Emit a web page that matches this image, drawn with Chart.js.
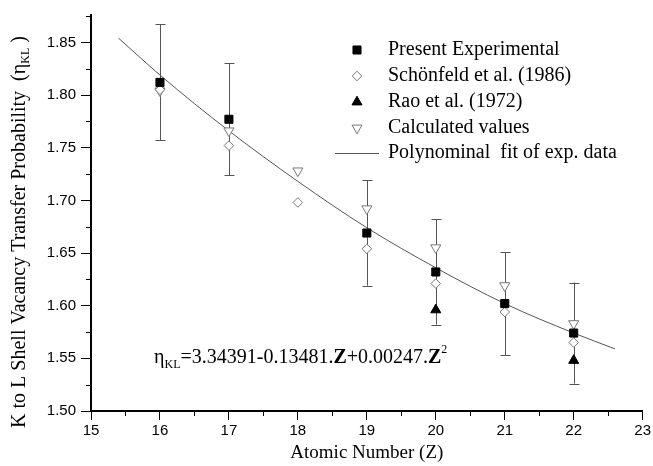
<!DOCTYPE html>
<html>
<head>
<meta charset="utf-8">
<script src="https://cdn.jsdelivr.net/npm/chart.js@4"></script>
<style>
  html, body { margin: 0; padding: 0; background: #fff; }
  #wrap { width: 653px; height: 466px; }
</style>
</head>
<body>
<div id="wrap"><canvas id="chart"></canvas></div>
<script>
// values
const presentZ = [16, 17, 19, 20, 21, 22];
const presentValues = [1.812, 1.777, 1.669, 1.632, 1.602, 1.574];
const presentErrors = [0.055, 0.053, 0.050, 0.050, 0.049, 0.048];

const schonfeldZ = [16, 17, 18, 19, 20, 21, 22];
const schonfeldValues = [1.805, 1.752, 1.698, 1.654, 1.621, 1.594, 1.565];

const raoZ = [20, 22];
const raoValues = [1.596, 1.548];

const calculatedZ = [16, 17, 18, 19, 20, 21, 22];
const calculatedValues = [1.804, 1.766, 1.728, 1.692, 1.655, 1.619, 1.583];

const fitZ = [15.4, 16, 17, 18, 19, 20, 21, 22, 22.6];
const fitValues = [1.854, 1.819, 1.766, 1.718, 1.674, 1.636, 1.602, 1.574, 1.559];

const xTicks = [15, 16, 17, 18, 19, 20, 21, 22, 23];
const yTicks = [1.50, 1.55, 1.60, 1.65, 1.70, 1.75, 1.80, 1.85];
const xMinorTicks = [15.5, 16.5, 17.5, 18.5, 19.5, 20.5, 21.5, 22.5];
const yMinorTicks = [1.525, 1.575, 1.625, 1.675, 1.725, 1.775, 1.825, 1.875];

const serif = "'Liberation Serif', 'Times New Roman', serif";
const sans = "'Liberation Sans', Arial, sans-serif";

function points(xs, ys) {
    return xs.map((x, i) => ({ x: x, y: ys[i] }));
}

// error bars for the experimental points
const errorBars = {
    id: "errorBars",
    beforeDatasetsDraw(chart) {
        const ctx = chart.ctx;
        const x = chart.scales.x, y = chart.scales.y;
        ctx.save();
        ctx.strokeStyle = "#555";
        ctx.lineWidth = 1;
        presentZ.forEach((z, i) => {
            const px = Math.round(x.getPixelForValue(z)) + 0.5;
            const top = y.getPixelForValue(presentValues[i] + presentErrors[i]);
            const bot = y.getPixelForValue(presentValues[i] - presentErrors[i]);
            ctx.beginPath();
            ctx.moveTo(px, top); ctx.lineTo(px, bot);
            ctx.moveTo(px - 5, Math.round(top) + 0.5); ctx.lineTo(px + 5, Math.round(top) + 0.5);
            ctx.moveTo(px - 5, Math.round(bot) + 0.5); ctx.lineTo(px + 5, Math.round(bot) + 0.5);
            ctx.stroke();
        });
        ctx.restore();
    }
};

// minor ticks, legend, y title and the fit equation
const extras = {
    id: "extras",
    afterDraw(chart) {
        const ctx = chart.ctx;
        const x = chart.scales.x, y = chart.scales.y;
        const area = chart.chartArea;
        ctx.save();
        ctx.strokeStyle = "#000";
        ctx.lineWidth = 1;
        ctx.beginPath();
        xMinorTicks.forEach(v => {
            const px = Math.round(x.getPixelForValue(v)) + 0.5;
            ctx.moveTo(px, area.bottom); ctx.lineTo(px, area.bottom + 5);
        });
        yMinorTicks.forEach(v => {
            if (v > y.max) return;
            const py = Math.round(y.getPixelForValue(v)) + 0.5;
            ctx.moveTo(area.left - 5, py); ctx.lineTo(area.left, py);
        });
        ctx.stroke();

        // legend
        const rowY = [50, 76, 102, 128, 153];
        ctx.textBaseline = "middle";
        ctx.textAlign = "left";
        chart.data.datasets.forEach((ds, i) => {
            const yy = rowY[i];
            if (ds.showLine) {
                ctx.strokeStyle = ds.borderColor;
                ctx.lineWidth = ds.borderWidth;
                ctx.beginPath();
                ctx.moveTo(335, yy + 0.5); ctx.lineTo(379, yy + 0.5);
                ctx.stroke();
            } else {
                ctx.fillStyle = ds.backgroundColor;
                ctx.strokeStyle = ds.borderColor;
                ctx.lineWidth = ds.borderWidth;
                Chart.helpers.drawPoint(ctx, {
                    pointStyle: ds.pointStyle,
                    rotation: ds.rotation || 0,
                    radius: ds.pointRadius,
                    borderWidth: ds.borderWidth
                }, 357, yy);
            }
            ctx.fillStyle = "#000";
            ctx.font = "20px " + serif;
            ctx.fillText(ds.label, 388, yy);
        });

        // y axis title with subscript
        ctx.save();
        ctx.translate(25, 232);
        ctx.rotate(-Math.PI / 2);
        ctx.textBaseline = "alphabetic";
        const parts = [
            { t: "K to L Shell Vacancy Transfer Probability  (\u03b7", f: "20px " + serif, dy: 0 },
            { t: "KL", f: "12px " + serif, dy: 4 },
            { t: " )", f: "20px " + serif, dy: 0 }
        ];
        let total = 0;
        parts.forEach(p => { ctx.font = p.f; total += ctx.measureText(p.t).width; });
        let cx = -total / 2;
        parts.forEach(p => {
            ctx.font = p.f;
            ctx.fillText(p.t, cx, p.dy);
            cx += ctx.measureText(p.t).width;
        });
        ctx.restore();

        // fit equation
        const eq = [
            { t: "\u03b7", f: "20px " + serif, dy: 0 },
            { t: "KL", f: "12px " + serif, dy: 5 },
            { t: "=3.34391-0.13481.", f: "20px " + serif, dy: 0 },
            { t: "Z", f: "bold 20px " + serif, dy: 0 },
            { t: "+0.00247.", f: "20px " + serif, dy: 0 },
            { t: "Z", f: "bold 20px " + serif, dy: 0 },
            { t: "2", f: "12px " + serif, dy: -10 }
        ];
        ctx.textBaseline = "alphabetic";
        let ex = 154;
        eq.forEach(p => {
            ctx.font = p.f;
            ctx.fillText(p.t, ex, 363 + p.dy);
            ex += ctx.measureText(p.t).width;
        });
        ctx.restore();
    }
};

new Chart(document.getElementById("chart"), {
    type: "scatter",
    data: {
        datasets: [
            {
                label: "Present Experimental",
                data: points(presentZ, presentValues),
                pointStyle: "rect",
                pointRadius: 5.7,
                backgroundColor: "#000",
                borderColor: "#000",
                borderWidth: 1
            },
            {
                label: "Sch\u00f6nfeld et al. (1986)",
                data: points(schonfeldZ, schonfeldValues),
                pointStyle: "rectRot",
                pointRadius: 4.8,
                backgroundColor: "#fff",
                borderColor: "#777",
                borderWidth: 1
            },
            {
                label: "Rao et al. (1972)",
                data: points(raoZ, raoValues),
                pointStyle: "triangle",
                pointRadius: 5.8,
                backgroundColor: "#000",
                borderColor: "#000",
                borderWidth: 1
            },
            {
                label: "Calculated values",
                data: points(calculatedZ, calculatedValues),
                pointStyle: "triangle",
                rotation: 180,
                pointRotation: 180,
                pointRadius: 5.8,
                backgroundColor: "#fff",
                borderColor: "#777",
                borderWidth: 1
            },
            {
                label: "Polynominal  fit of exp. data",
                data: points(fitZ, fitValues),
                showLine: true,
                pointRadius: 0,
                borderColor: "#555",
                borderWidth: 1,
                cubicInterpolationMode: "monotone",
                fill: false
            }
        ]
    },
    options: {
        responsive: true,
        maintainAspectRatio: false,
        animation: false,
        layout: { padding: { top: 15, right: 10, left: 0, bottom: 0 } },
        plugins: {
            legend: { display: false },
            tooltip: { enabled: false }
        },
        scales: {
            x: {
                type: "linear",
                min: 15,
                max: 23,
                afterBuildTicks: (scale) => { scale.ticks = xTicks.map(v => ({ value: v })); },
                afterFit: (scale) => { scale.height = 55; },
                grid: { drawOnChartArea: false, tickLength: 9, tickColor: "#000", tickWidth: 1 },
                border: { color: "#000", width: 2 },
                ticks: { color: "#000", font: { family: sans, size: 15 }, padding: 2, maxRotation: 0 },
                title: { display: true, text: "Atomic Number (Z)", color: "#000", font: { family: serif, size: 19 }, padding: { top: 0, bottom: 2 } }
            },
            y: {
                type: "linear",
                min: 1.5,
                max: 1.876,
                afterBuildTicks: (scale) => { scale.ticks = yTicks.map(v => ({ value: v })); },
                afterFit: (scale) => { scale.width = 91; },
                grid: { drawOnChartArea: false, tickLength: 10, tickColor: "#000", tickWidth: 1 },
                border: { color: "#000", width: 2 },
                ticks: { color: "#000", font: { family: sans, size: 15 }, padding: 5, callback: (v) => v.toFixed(2) }
            }
        }
    },
    plugins: [errorBars, extras]
});
</script>
</body>
</html>
